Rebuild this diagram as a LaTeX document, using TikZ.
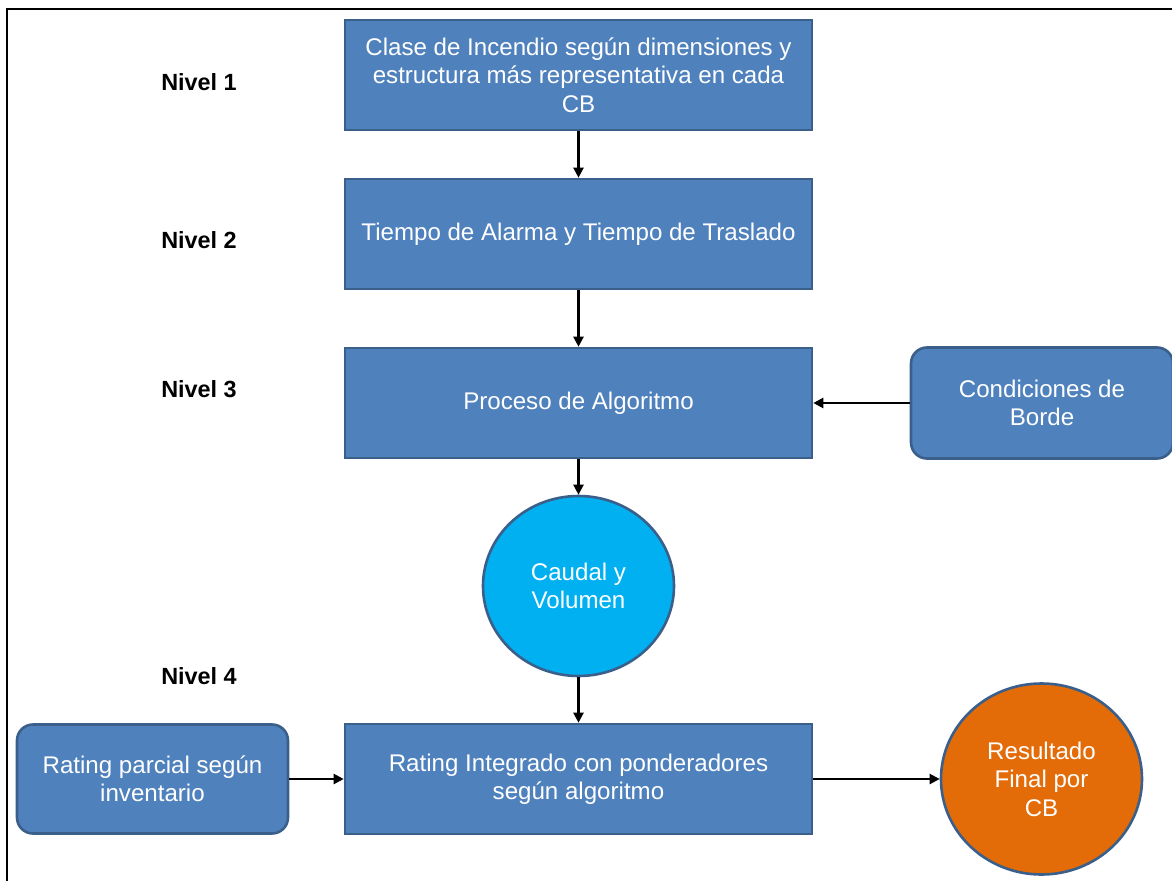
\documentclass[tikz,border=0pt]{standalone}
\usepackage{fontspec}
\setmainfont{Liberation Sans}
\usetikzlibrary{arrows.meta,shapes.geometric}
\definecolor{boxblue}{HTML}{4F81BD}
\definecolor{boxedge}{HTML}{3A5F8B}
\definecolor{cyanfill}{HTML}{00B0F0}
\definecolor{orangefill}{HTML}{E36C09}
\tikzset{
  flowbox/.style={rectangle, draw=boxedge, line width=2.6bp, fill=boxblue, text=white,
    minimum width=467bp, minimum height=110bp, align=center, inner sep=2bp,
    font=\fontsize{24.2}{28.5}\selectfont},
  sidebox/.style={flowbox, rounded corners=16bp},
  roundnode/.style={ellipse, draw=boxedge, line width=2.6bp, text=white, align=center,
    inner sep=0pt, font=\fontsize{24.2}{28.5}\selectfont},
  levellabel/.style={font=\bfseries\fontsize{23.5}{28}\selectfont, text=black},
  conn/.style={draw=black, line width=2.2bp, -{Triangle[length=10bp,width=10bp]}}
}
\begin{document}
\begin{tikzpicture}[x=1bp,y=-1bp]
\useasboundingbox (0,0) rectangle (1172,881);
\fill[white] (0,0) rectangle (1172,881);
% frame
\draw[line width=2.8bp, black] (7,900) -- (7,9) -- (1190,9);
% level labels
\node[levellabel] (n1) at (199,82) {Nivel 1};
\node[levellabel] (n2) at (199,240) {Nivel 2};
\node[levellabel] (n3) at (199,389) {Nivel 3};
\node[levellabel] (n4) at (199,676) {Nivel 4};
% main boxes
\node[flowbox] (b1) at (578.5,75) {Clase de Incendio según dimensiones y\\estructura más representativa en cada\\CB};
\node[flowbox] (b2) at (578.5,234) {Tiempo de Alarma y Tiempo de Traslado};
\node[flowbox] (b3) at (578.5,403) {Proceso de Algoritmo};
\node[roundnode, fill=cyanfill, minimum width=191bp, minimum height=180bp] (cv) at (578.5,586) {Caudal y\\Volumen};
\node[flowbox] (b4) at (578.5,779) {Rating Integrado con ponderadores\\según algoritmo};
\node[sidebox, minimum width=271bp, minimum height=109bp] (rp) at (152.5,779) {Rating parcial según\\inventario};
\node[sidebox, minimum width=262bp, minimum height=111bp] (cb) at (1042,403) {Condiciones de\\Borde};
\node[roundnode, fill=orangefill, minimum width=201bp, minimum height=191bp] (rf) at (1041.5,779) {Resultado\\Final por\\CB};
% connectors
\draw[conn] (b1.south) -- (b2.north);
\draw[conn] (b2.south) -- (b3.north);
\draw[conn] (b3.south) -- (cv.north);
\draw[conn] (cv.south) -- (b4.north);
\draw[conn] (cb.west) -- (b3.east);
\draw[conn] (rp.east) -- (b4.west);
\draw[conn] (b4.east) -- (rf.west);
\end{tikzpicture}
\end{document}
